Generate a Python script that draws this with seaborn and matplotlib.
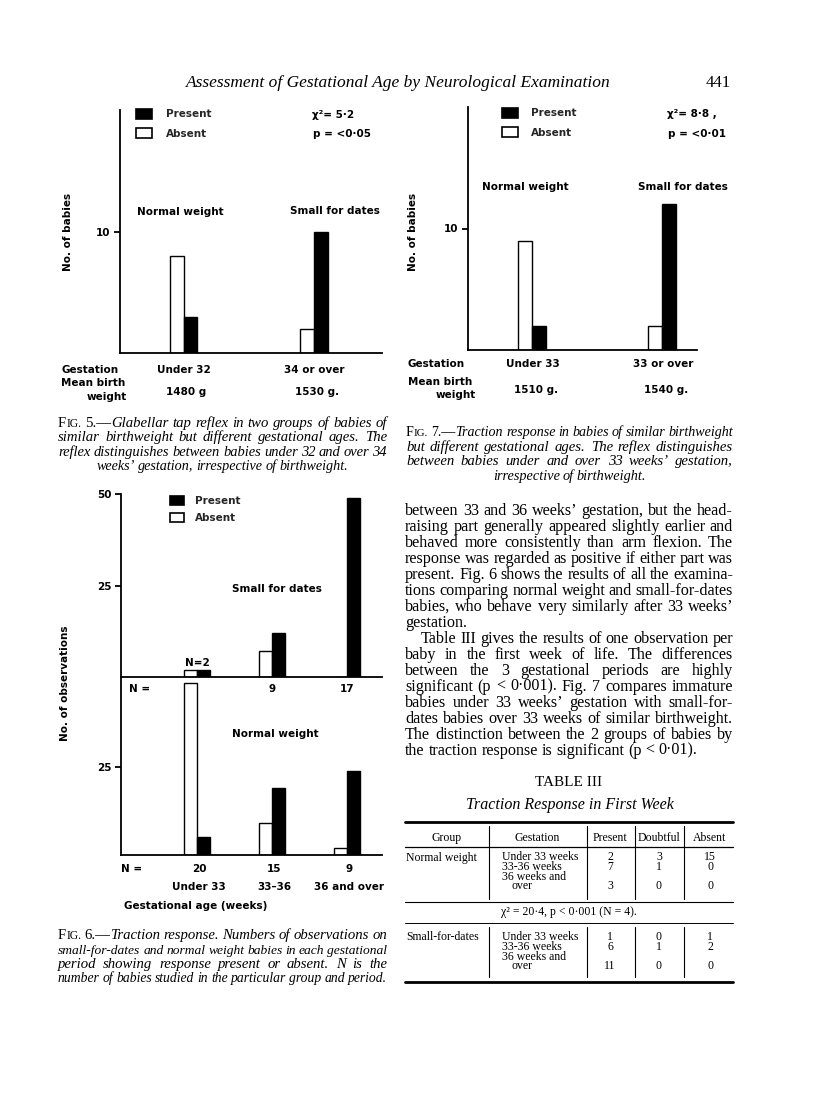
import matplotlib
matplotlib.use("Agg")
import matplotlib.pyplot as plt
import matplotlib.transforms as mtransforms
from matplotlib.lines import Line2D
from matplotlib.patches import Patch
import pandas as pd
import seaborn as sns

W, H = 816, 1097

# --- values ---
fig5_groups = ["Under 32", "34 or over"]
fig5_weights = ["1480 g", "1530 g."]
fig5_absent = [8, 2]
fig5_present = [3, 10]

fig7_groups = ["Under 33", "33 or over"]
fig7_weights = ["1510 g.", "1540 g."]
fig7_absent = [9, 2]
fig7_present = [2, 12]

fig6_periods = ["Under 33", "33–36", "36 and over"]
fig6_sfd_n = [2, 9, 17]
fig6_sfd_absent = [2, 7, 0]
fig6_sfd_present = [2, 12, 49]
fig6_nw_n = [20, 15, 9]
fig6_nw_absent = [49, 9, 2]
fig6_nw_present = [5, 19, 24]

table_cols = ["Group", "Gestation", "Present", "Doubtful", "Absent"]
table_groups = ["Normal weight", "Small-for-dates"]
table_gestation = ["Under 33 weeks", "33-36 weeks", "36 weeks and", "over"]
table_nw = [[2, 3, 15], [7, 1, 0], [3, 0, 0]]
table_sfd = [[1, 0, 1], [6, 1, 2], [11, 0, 0]]

fig5_caption = [
    "Glabellar tap reflex in two groups of babies of",
    "similar birthweight but different gestational ages. The",
    "reflex distinguishes between babies under 32 and over 34",
    "weeks’ gestation, irrespective of birthweight.",
]
fig6_caption = [
    "Traction response. Numbers of observations on",
    "small-for-dates and normal weight babies in each gestational",
    "period showing response present or absent. N is the",
    "number of babies studied in the particular group and period.",
]
fig7_caption = [
    "Traction response in babies of similar birthweight",
    "but different gestational ages. The reflex distinguishes",
    "between babies under and over 33 weeks’ gestation,",
    "irrespective of birthweight.",
]
body = [
    "between 33 and 36 weeks’ gestation, but the head-",
    "raising part generally appeared slightly earlier and",
    "behaved more consistently than arm flexion. The",
    "response was regarded as positive if either part was",
    "present. Fig. 6 shows the results of all the examina-",
    "tions comparing normal weight and small-for-dates",
    "babies, who behave very similarly after 33 weeks’",
    "gestation.",
    "Table III gives the results of one observation per",
    "baby in the first week of life. The differences",
    "between the 3 gestational periods are highly",
    "significant (p < 0·001). Fig. 7 compares immature",
    "babies under 33 weeks’ gestation with small-for-",
    "dates babies over 33 weeks of similar birthweight.",
    "The distinction between the 2 groups of babies by",
    "the traction response is significant (p < 0·01).",
]

sns.set_theme(style="white")
plt.rcParams["font.family"] = ["DejaVu Sans"]

fig = plt.figure(figsize=(W / 100, H / 100), dpi=100)
fig.patch.set_facecolor("white")

SANS = dict(family="DejaVu Sans", fontsize=7.5, fontweight="bold", color="black")
SERIF = "Liberation Serif"


def fx(px):
    return px / W


def fy(py):
    return 1 - py / H


def ftext(x, y, s, **kw):
    opts = dict(SANS, ha="center", va="center")
    opts.update(kw)
    return fig.text(fx(x), fy(y), s, **opts)


def px_axes(x0, y0, x1, y1):
    ax = fig.add_axes([fx(x0), fy(y1), (x1 - x0) / W, (y1 - y0) / H])
    ax.patch.set_alpha(0)
    return ax


def draw_bars(ax, groups, absent, present, width):
    df = pd.DataFrame({
        "group": groups * 2,
        "status": ["Absent"] * len(groups) + ["Present"] * len(groups),
        "count": absent + present,
    })
    sns.barplot(data=df, x="group", y="count", hue="status", order=groups,
                hue_order=["Absent", "Present"],
                palette={"Absent": "white", "Present": "black"},
                edgecolor="black", linewidth=1.0, width=width, saturation=1,
                errorbar=None, legend=False, ax=ax)


def style_axes(ax, xlim, ylim, yticks):
    ax.set_xlim(*xlim)
    ax.set_ylim(*ylim)
    sns.despine(ax=ax)
    for s in ("left", "bottom"):
        ax.spines[s].set_linewidth(1.3)
        ax.spines[s].set_color("black")
    ax.set_xticks([])
    ax.set_xlabel("")
    ax.set_ylabel("")
    ax.set_yticks(yticks)
    ax.set_yticklabels([str(t) for t in yticks], fontweight="bold")
    ax.tick_params(axis="y", left=True, direction="out", length=4.5, width=1.3,
                   pad=2.5, labelsize=7.5, colors="black")


def legend(ax, x, y, hw, hh, pad, spacing):
    fs = 7.5 * 100 / 72
    handles = [Patch(facecolor="black", edgecolor="black", linewidth=1.2, label="Present"),
               Patch(facecolor="white", edgecolor="black", linewidth=1.2, label="Absent")]
    leg = ax.legend(handles=handles, loc="upper left", bbox_to_anchor=(fx(x), fy(y)),
                    bbox_transform=fig.transFigure, frameon=False, borderpad=0,
                    borderaxespad=0, handlelength=hw / fs, handleheight=hh / fs,
                    handletextpad=pad / fs, labelspacing=spacing / fs,
                    prop=dict(family="DejaVu Sans", size=7.5, weight="bold"))
    return leg


def text_line(words, x0, x1, yc, base, justify=True):
    # lay out one line of words, stretching the gaps to fill x0..x1;
    # squeeze the type a little if the words do not fit
    r = fig.canvas.get_renderer()
    yb = yc + 0.28 * base["size"] * 100 / 72
    items = []
    for w in words:
        segs = [(w, {})] if isinstance(w, str) else w
        parts = []
        for s, extra in segs:
            t = fig.text(0, fy(yb), s, ha="left", va="baseline", color="black",
                         **{**base, **extra})
            parts.append([t, t.get_window_extent(r).width])
        items.append(parts)
    widths = [sum(p[1] for p in parts) for parts in items]
    space = base["size"] * 0.25 * 100 / 72
    min_gap = space * 0.8
    n = len(items)
    if justify and n > 1:
        room = x1 - x0 - (n - 1) * min_gap
        if sum(widths) > room:
            k = room / sum(widths)
            for parts in items:
                for p in parts:
                    p[0].set_fontsize(p[0].get_fontsize() * k)
                    p[1] *= k
            widths = [w * k for w in widths]
        gap = (x1 - x0 - sum(widths)) / (n - 1)
    else:
        gap = space
    x = x0
    for parts, wd in zip(items, widths):
        xx = x
        for t, pw in parts:
            t.set_x(fx(xx))
            xx += pw
        x += wd + gap


def caption(num, lines, x0, x1, ys, last_span):
    base = dict(family=SERIF, size=10.6, style="italic", weight="normal")
    roman = {"style": "normal"}
    for i, (line, y) in enumerate(zip(lines, ys)):
        words = line.split()
        if i == 0:
            words = ([[("F", roman), ("IG.", {**roman, "size": 8.3})],
                      [(f"{num}.—", roman), (words[0], {})]] + words[1:])
        a, b = (x0, x1) if i < len(lines) - 1 else last_span
        text_line(words, a, b, y, base)


def hline(x0, x1, y, lw):
    fig.add_artist(Line2D([fx(x0), fx(x1)], [fy(y), fy(y)], color="black",
                          lw=lw, transform=fig.transFigure))


def vline(x, y0, y1, lw=0.8):
    fig.add_artist(Line2D([fx(x), fx(x)], [fy(y0), fy(y1)], color="black",
                          lw=lw, transform=fig.transFigure))


# --- running head ---
ftext(398, 83, "Assessment of Gestational Age by Neurological Examination",
      family=SERIF, fontsize=12.5, fontstyle="italic", fontweight="normal")
ftext(718, 83, "441", family=SERIF, fontsize=12, fontweight="normal")

# --- Fig. 5 ---
ax5 = px_axes(120, 110, 382, 353)
draw_bars(ax5, fig5_groups, fig5_absent, fig5_present, 0.208)
style_axes(ax5, (-0.492, 1.523), (0, 20), [10])
legend(ax5, 136, 109, 16, 11, 14, 9)
tr5 = mtransforms.blended_transform_factory(ax5.transData, fig.transFigure)
for i, (g, w) in enumerate(zip(fig5_groups, fig5_weights)):
    ax5.text(i, fy(370), g, transform=tr5, ha="center", va="center", **SANS)
    ax5.text(i + 0.02, fy(392), w, transform=tr5, ha="center", va="center", **SANS)
ftext(312, 115, "χ²= 5·2", ha="left")
ftext(313, 134, "p = <0·05", ha="left")
ftext(180, 212, "Normal weight")
ftext(335, 211, "Small for dates")
ftext(68, 232, "No. of babies", rotation=90)
ftext(61, 370, "Gestation", ha="left")
ftext(61, 383, "Mean birth", ha="left")
ftext(127, 397, "weight", ha="right")

# --- Fig. 7 ---
ax7 = px_axes(468, 107, 697, 350)
draw_bars(ax7, fig7_groups, fig7_absent, fig7_present, 0.208)
style_axes(ax7, (-0.492, 1.269), (0, 20), [10])
legend(ax7, 502, 108, 16, 11, 13, 9)
tr7 = mtransforms.blended_transform_factory(ax7.transData, fig.transFigure)
for i, (g, w) in enumerate(zip(fig7_groups, fig7_weights)):
    ax7.text(i + 0.01, fy(364), g, transform=tr7, ha="center", va="center", **SANS)
    ax7.text(i + 0.03, fy(390), w, transform=tr7, ha="center", va="center", **SANS)
ftext(667, 114, "χ²= 8·8 ,", ha="left")
ftext(668, 134, "p = <0·01", ha="left")
ftext(525, 187, "Normal weight")
ftext(683, 187, "Small for dates")
ftext(413, 232, "No. of babies", rotation=90)
ftext(408, 364, "Gestation", ha="left")
ftext(408, 382, "Mean birth", ha="left")
ftext(476, 395, "weight", ha="right")

# --- Fig. 6: small for dates (upper) and normal weight (lower) ---
ax6u = px_axes(121, 494, 382, 677)
draw_bars(ax6u, fig6_periods, fig6_sfd_absent, fig6_sfd_present, 0.347)
style_axes(ax6u, (-1.013, 2.467), (0, 50), [25, 50])
legend(ax6u, 170, 496, 14, 10, 11, 7)
ax6l = px_axes(121, 677, 382, 855)
draw_bars(ax6l, fig6_periods, fig6_nw_absent, fig6_nw_present, 0.347)
style_axes(ax6l, (-1.013, 2.467), (0, 50.6), [25])

tru = mtransforms.blended_transform_factory(ax6u.transData, fig.transFigure)
trl = mtransforms.blended_transform_factory(ax6l.transData, fig.transFigure)
for i, n in enumerate(fig6_sfd_n):
    if i == 0:
        ax6u.text(i, fy(663), f"N={n}", transform=tru, ha="center", va="center", **SANS)
    else:
        ax6u.text(i, fy(689), str(n), transform=tru, ha="center", va="center", **SANS)
for i, (n, p) in enumerate(zip(fig6_nw_n, fig6_periods)):
    ax6l.text(i + 0.03, fy(869), str(n), transform=trl, ha="center", va="center", **SANS)
    ax6l.text(i + 0.03, fy(887), p, transform=trl, ha="center", va="center", **SANS)
ftext(129, 689, "N =", ha="left")
ftext(121, 869, "N =", ha="left")
ftext(277, 589, "Small for dates")
ftext(275, 734, "Normal weight")
ftext(65, 683, "No. of observations", rotation=90)
ftext(124, 906, "Gestational age (weeks)", ha="left")

# --- captions ---
caption(5, fig5_caption, 58, 387, [423, 437, 452, 466], (97, 348))
caption(6, fig6_caption, 58, 387, [935, 950, 964, 978], (58, 387))
caption(7, fig7_caption, 406, 733, [432, 447, 461, 476], (493, 646))

# --- body text ---
body_base = dict(family=SERIF, size=11.6, style="normal", weight="normal")
for i, line in enumerate(body):
    y = 510 + 16 * i
    x0 = 421 if i == 8 else 405
    if i == 7:
        text_line(line.split(), x0, 733, y, body_base, justify=False)
    elif i == len(body) - 1:
        text_line(line.split(), x0, 697, y, body_base)
    else:
        text_line(line.split(), x0, 733, y, body_base)

# --- Table III ---
ftext(569, 783, "TABLE III", family=SERIF, fontsize=11, fontweight="normal")
ftext(570, 805, "Traction Response in First Week", family=SERIF, fontsize=11.5,
      fontstyle="italic", fontweight="normal")
TAB = dict(family=SERIF, fontsize=8.5, fontweight="normal")
col_x = [447, 537, 610, 659, 710]
hline(405, 733, 822, 2.0)
for c, x in zip(table_cols, col_x):
    ftext(x, 838, c, **TAB)
hline(405, 733, 847, 0.9)
for x in (489, 587, 635, 684):
    vline(x, 826, 899)
    vline(x, 927, 977)

gest_dy = [0, 9.5, 19, 28.5]
for y0, label, rows in ((857.5, table_groups[0], table_nw), (937.5, table_groups[1], table_sfd)):
    ftext(406, y0, label, ha="left", **TAB)
    for g, dy in zip(table_gestation, gest_dy):
        ftext(512 if g == "over" else 502, y0 + dy, g, ha="left", **TAB)
    for row, dy in zip(rows, (0, 9.5, 28.5)):
        for v, x in zip(row, col_x[2:]):
            ftext(x, y0 + dy, str(v), **TAB)
hline(405, 733, 902, 0.8)
ftext(569, 912, "χ² = 20·4, p < 0·001 (N = 4).", **TAB)
hline(405, 733, 923, 0.7)
hline(405, 733, 982, 2.0)

fig.savefig("out.png", dpi=100, facecolor="white")
